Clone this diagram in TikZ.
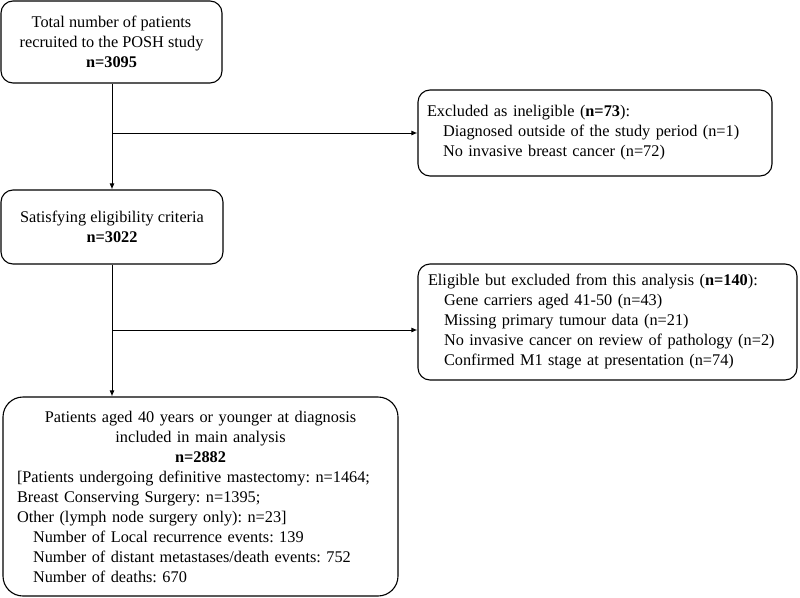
\documentclass[tikz,border=0pt]{standalone}
\usepackage{fontspec}
\setmainfont{Liberation Serif}
\usetikzlibrary{arrows.meta}
\frenchspacing
\begin{document}
\begin{tikzpicture}[x=1pt,y=-1pt,
  box/.style={draw, line width=1.1pt, rounded corners=12pt, font=\fontsize{16.3}{20}\selectfont},
  conn/.style={line width=1pt},
  arr/.style={line width=1pt, -{Latex[length=6pt,width=5pt]}}]
\useasboundingbox (0,0) rectangle (800,597);
\node[box, minimum width=221pt, minimum height=82pt, align=center] (b1) at (111.5,42)
  {Total number of patients\\recruited to the POSH study\\\textbf{n=3095}};
\node[box, minimum width=354pt, minimum height=86pt, inner xsep=9pt, text width=336pt] (b2) at (595,133)
  {\frenchspacing Excluded as ineligible (\textbf{n=73}):\\
   \hspace*{16pt}Diagnosed outside of the study period (n=1)\\
   \hspace*{16pt}No invasive breast cancer (n=72)};
\node[box, minimum width=222pt, minimum height=74pt, align=center] (b3) at (112,227)
  {Satisfying eligibility criteria\\\textbf{n=3022}};
\node[box, minimum width=379pt, minimum height=116pt, inner xsep=10pt, text width=359pt] (b4) at (607.5,322)
  {\frenchspacing Eligible but excluded from this analysis (\textbf{n=140}):\\
   \hspace*{16pt}Gene carriers aged 41-50 (n=43)\\
   \hspace*{16pt}Missing primary tumour data (n=21)\\
   \hspace*{16pt}No invasive cancer on review of pathology (n=2)\\
   \hspace*{16pt}Confirmed M1 stage at presentation (n=74)};
\node[box, rounded corners=20pt, minimum width=395pt, minimum height=199pt, inner xsep=14pt, text width=367pt] (b5) at (200.5,496.5)
  {\frenchspacing{\centering Patients aged 40 years or younger at diagnosis\\included in main analysis\\\textbf{n=2882}\par}
   {\raggedright [Patients undergoing definitive mastectomy: n=1464;\\
   Breast Conserving Surgery: n=1395;\\
   Other (lymph node surgery only): n=23]\\
   \hspace*{16pt}Number of Local recurrence events: 139\\
   \hspace*{16pt}Number of distant metastases/death events: 752\\
   \hspace*{16pt}Number of deaths: 670\par}};
\coordinate (j1) at (112,133);
\coordinate (j2) at (112,330);
\draw[arr] (b1.south -| j1) -- (b3.north -| j1);
\draw[arr] (j1) -- (j1 -| b2.west);
\draw[arr] (b3.south -| j2) -- (b5.north -| j2);
\draw[arr] (j2) -- (j2 -| b4.west);
\end{tikzpicture}
\end{document}
